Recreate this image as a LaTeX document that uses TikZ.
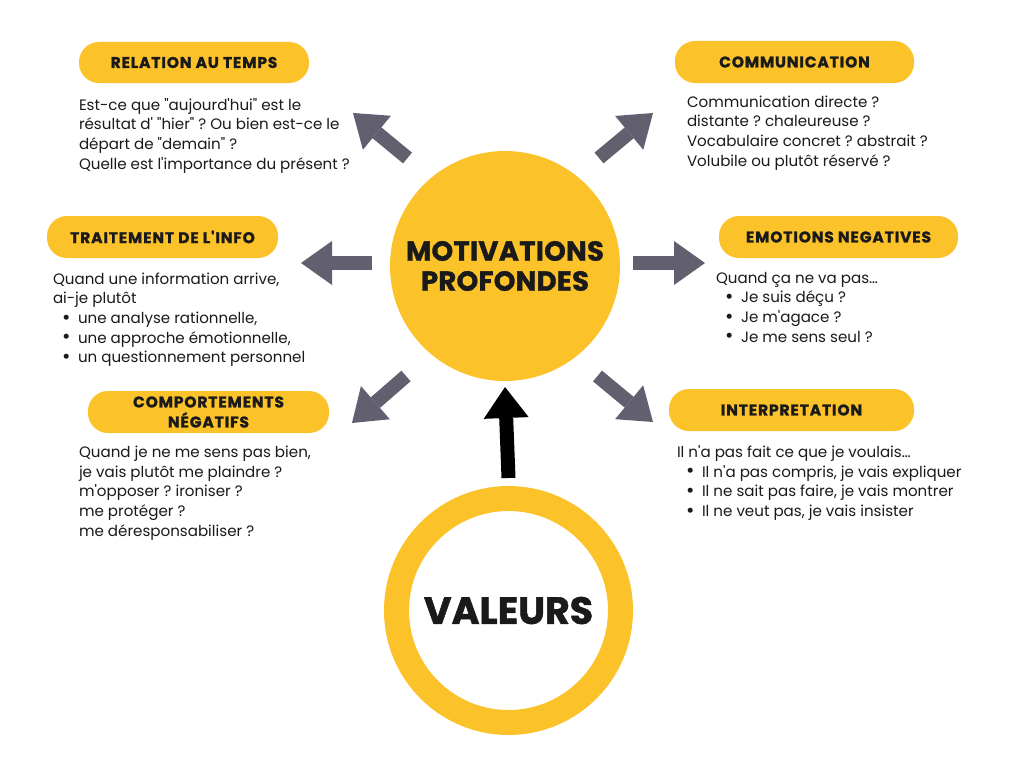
\documentclass[tikz,border=0pt]{standalone}
\usepackage{fontspec}
\setmainfont{Poppins}[Ligatures=TeXOff]
\newfontfamily\heavy{Poppins}[Ligatures=TeXOff, BoldFeatures={FakeBold=1.2}]
\usetikzlibrary{arrows.meta,calc}
\definecolor{ylw}{HTML}{FCC22A}
\definecolor{gry}{HTML}{625F6E}
\definecolor{ink}{HTML}{1A1A1A}
\frenchspacing
\newcommand\mybul{\hspace*{9pt}\makebox[16pt][l]{\raisebox{-0.6pt}{\scalebox{1.35}{•}}}}
\begin{document}
\begin{tikzpicture}[x=1pt,y=-1pt,
  pill/.style={fill=ylw, rounded corners=20pt, minimum height=42pt, inner sep=0pt, outer sep=0pt,
    font=\heavy\bfseries\fontsize{15.5}{20}\selectfont\addfontfeature{LetterSpace=5.5}, text=ink, align=center},
  body/.style={anchor=base west, inner sep=0pt, outer sep=0pt, font=\frenchspacing\fontsize{15.1}{19.7}\selectfont, text=ink},
  garrow/.style={draw=gry, line width=14pt, -{Triangle[width=44pt,length=31pt,line width=0pt]}},
  barrow/.style={draw=black, line width=14pt, -{Triangle[width=45pt,length=31pt,line width=0pt]}}]
\fill[white] (0,0) rectangle (1024,768);
\useasboundingbox (0,0) rectangle (1024,768);

% central circles
\node[circle, fill=ylw, minimum size=230pt, inner sep=0pt, outer sep=0pt, align=center,
  font=\heavy\bfseries\fontsize{27.5}{30}\selectfont\addfontfeature{LetterSpace=1}, text=ink] (mot) at (505,266) {MOTIVATIONS\\PROFONDES};
\node[circle, draw=ylw, line width=25pt, minimum size=224pt, inner sep=0pt, outer sep=0pt,
  font=\heavy\bfseries\fontsize{38}{40}\selectfont, text=ink] (val) at (508.5,610.5) {VALEURS};
\draw[barrow] ($(val.north)+(0,-20.5)$) -- ($(mot.south)+(0,6)$);

% pills
\node[pill, minimum width=230pt, minimum height=41pt] (p1) at (194,62.5) {RELATION AU TEMPS};
\node[pill, minimum width=239pt] (p2) at (794.5,62) {COMMUNICATION};
\node[pill, minimum width=231pt] (p3) at (162.5,237) {TRAITEMENT DE L'INFO};
\node[pill, minimum width=239pt] (p4) at (838.5,237) {EMOTIONS NEGATIVES};
\node[pill, minimum width=241pt] (p5) at (208.5,412) {COMPORTEMENTS\\NÉGATIFS};
\node[pill, minimum width=245pt] (p6) at (791.5,410) {INTERPRETATION};

% arrows
\coordinate (aLs) at (372,263);   \coordinate (aLe) at (301,263);
\coordinate (aRs) at (633,263);   \coordinate (aRe) at (705,263);
\coordinate (aULs) at (407.5,158); \coordinate (aULe) at (353,113);
\coordinate (aURs) at (599,158);   \coordinate (aURe) at (653,113);
\coordinate (aLLs) at (406,376);   \coordinate (aLLe) at (352,423);
\coordinate (aLRs) at (597.5,376); \coordinate (aLRe) at (653,422);
\draw[garrow] (aLs) -- (aLe);
\draw[garrow] (aRs) -- (aRe);
\draw[garrow] (aULs) -- (aULe);
\draw[garrow] (aURs) -- (aURe);
\draw[garrow] (aLLs) -- (aLLe);
\draw[garrow] (aLRs) -- (aLRe);

% texts
\node[body] (t1) at (79,110) {\begin{tabular}[t]{@{}l@{}}
Est-ce que "aujourd'hui" est le\\
résultat d' "hier" ? Ou bien est-ce le\\
départ de "demain" ?\\
Quelle est l'importance du présent ?
\end{tabular}};
\node[body] (t2) at (687,107) {\begin{tabular}[t]{@{}l@{}}
Communication directe ?\\
distante ? chaleureuse ?\\
Vocabulaire concret ? abstrait ?\\
Volubile ou plutôt réservé ?
\end{tabular}};
\node[body] (t3) at (53,284) {\begin{tabular}[t]{@{}l@{}}
Quand une information arrive,\\
ai-je plutôt\\
\mybul une analyse rationnelle,\\
\mybul une approche émotionnelle,\\
\mybul un questionnement personnel
\end{tabular}};
\node[body] (t4) at (716,283) {\begin{tabular}[t]{@{}l@{}}
Quand ça ne va pas…\\
\mybul Je suis déçu ?\\
\mybul Je m'agace ?\\
\mybul Je me sens seul ?
\end{tabular}};
\node[body] (t5) at (79,457.5) {\begin{tabular}[t]{@{}l@{}}
Quand je ne me sens pas bien,\\
je vais plutôt me plaindre ?\\
m'opposer ? ironiser ?\\
me protéger ?\\
me déresponsabiliser ?
\end{tabular}};
\node[body] (t6) at (677,457.3) {\begin{tabular}[t]{@{}l@{}}
Il n'a pas fait ce que je voulais…\\
\mybul Il n'a pas compris, je vais expliquer\\
\mybul Il ne sait pas faire, je vais montrer\\
\mybul Il ne veut pas, je vais insister
\end{tabular}};
\end{tikzpicture}
\end{document}
